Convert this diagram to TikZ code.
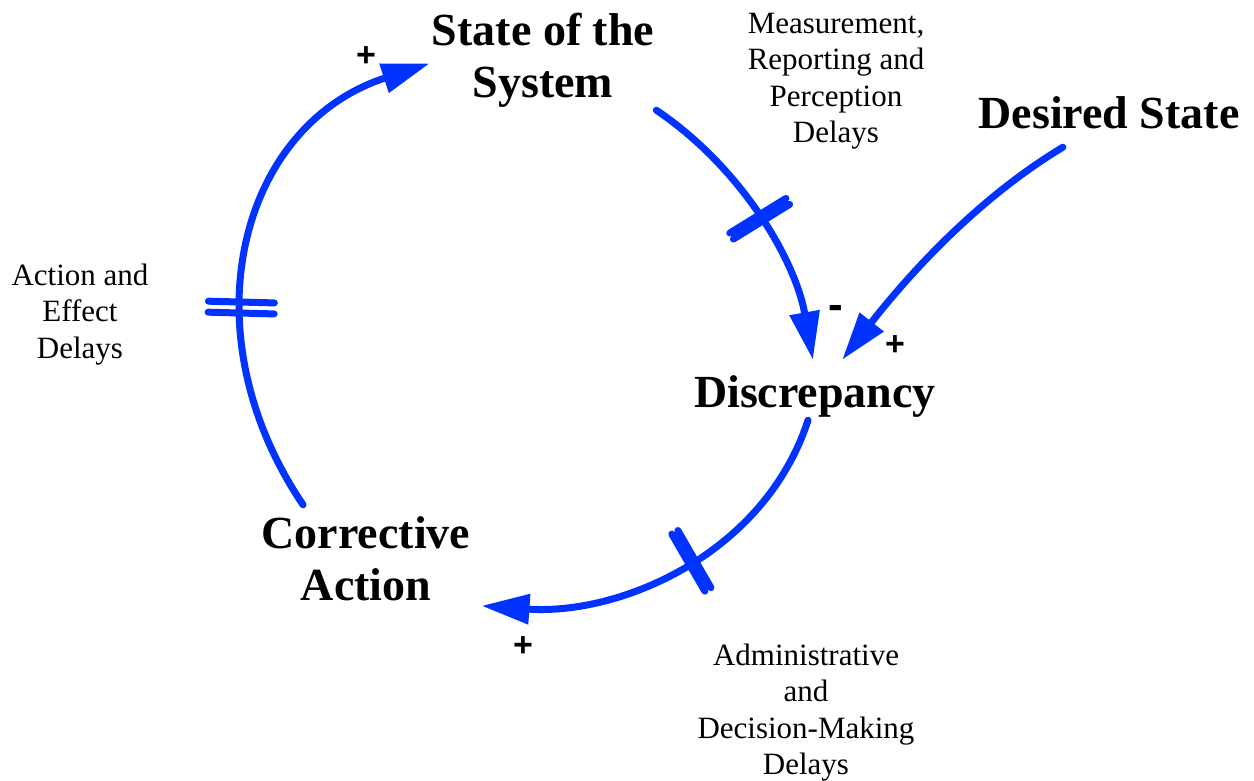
\documentclass[tikz,border=0pt]{standalone}
\usepackage{fontspec}
\setmainfont{Liberation Serif}
\newfontfamily\signfont{Liberation Sans}
\usetikzlibrary{arrows.meta}
\definecolor{loopblue}{RGB}{0,51,255}
\setlength{\tabcolsep}{0pt}
\newcommand{\titlefont}{\fontsize{46}{52}\selectfont\bfseries}
\newcommand{\notefont}{\fontsize{31}{36.5}\selectfont}

\begin{document}
\begin{tikzpicture}[x=1pt,y=1pt,
  link/.style={draw=loopblue, line width=7pt, line cap=round,
    -{Triangle[length=48pt,width=29pt]}},
  title/.style={font=\titlefont, inner xsep=0pt, inner ysep=0pt, anchor=base,
    text height=36pt, text depth=16pt},
  note/.style={font=\notefont, inner sep=0pt, anchor=base},
  sign/.style={font=\signfont\bfseries\fontsize{34}{34}\selectfont, inner sep=0pt},
  delaybox/.style={sloped, inner sep=0pt, outer sep=0pt, minimum width=#1,
    minimum height=66pt, draw=none},
  delayline/.style={draw=loopblue, line width=7pt, line cap=round}]

\fill[white] (0,0) rectangle (1254,-780);
\useasboundingbox (0,0) rectangle (1254,-780);

% variables of the balancing loop
\node[title, inner xsep=2pt, text depth=65pt] (state) at (543,-45)
  {\begin{tabular}[t]{c}State of the\\System\end{tabular}};
\node[title, text height=47pt, text depth=13pt] (disc) at (815,-407) {Discrepancy};
\node[title, inner xsep=11pt, text height=43pt, text depth=70pt] (corr) at (366,-548)
  {\begin{tabular}[t]{c}Corrective\\Action\end{tabular}};
\node[title, text depth=19pt] (desired) at (1109,-128) {Desired State};

% delay labels
\node[note] (meas) at (836,-33)
  {\begin{tabular}[t]{c}Measurement,\\Reporting and\\Perception\\Delays\end{tabular}};
\node[note] (act) at (80,-285)
  {\begin{tabular}[t]{c}Action and\\Effect\\Delays\end{tabular}};
\node[note] (adm) at (806,-665)
  {\begin{tabular}[t]{c}Administrative\\and\\Decision-Making\\Delays\end{tabular}};

% causal links
\draw[link] (state.south east) .. controls +(-34:102) and +(100:102) .. (disc.94)
  node[delaybox=7pt, pos=0.5] (dm) {};
\draw[link] (disc.-103) .. controls +(252:140) and +(356:140) .. (corr.-21)
  node[delaybox=7pt, pos=0.47] (da) {};
\draw[link] (corr.138) .. controls +(124:210) and +(198:200) .. (state.182)
  node[delaybox=11pt, pos=0.37] (de) {};
\draw[link] (desired.211) .. controls +(211:103) and +(52:103) .. (disc.48);

% delay marks
\foreach \d in {dm,da,de}
  \draw[delayline] (\d.north west) -- (\d.south west)
                   (\d.north east) -- (\d.south east);

% link polarities
\node[sign] (p1) at (366,-57) {+};
\node[sign] (p2) at (895,-346) {+};
\node[sign] (p3) at (523,-647) {+};
\node[sign, font=\signfont\bfseries\fontsize{44}{44}\selectfont] (m1) at (836,-312) {-};
\end{tikzpicture}
\end{document}
